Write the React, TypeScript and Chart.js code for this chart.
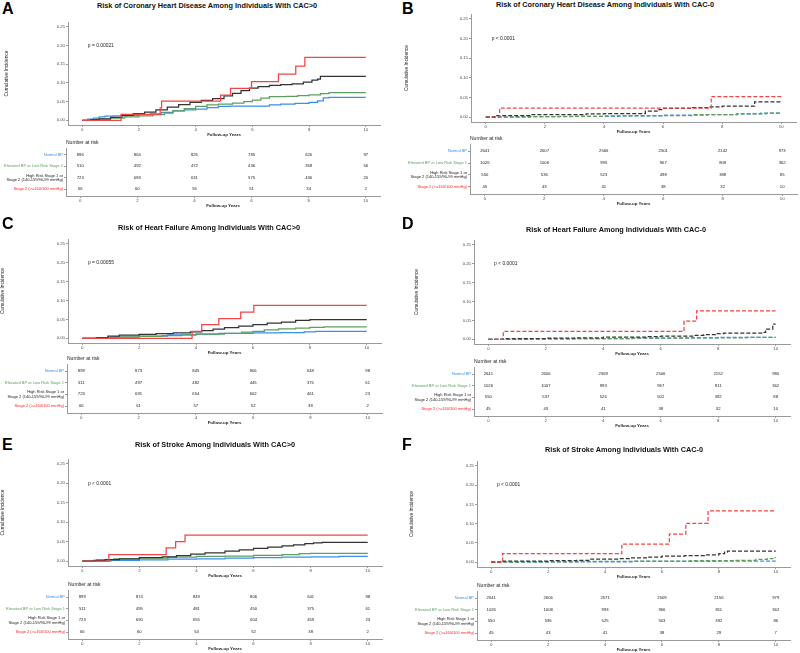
import React, { useEffect, useRef } from 'react';
import { Chart, registerables } from 'chart.js';

Chart.register(...registerables);

const FONT = '"Liberation Sans", Arial, Helvetica, sans-serif';

const yearTicks = [0, 2, 4, 6, 8, 10];
const incidenceTicks = [0, 0.05, 0.1, 0.15, 0.2, 0.25];
const groupNames: (string | string[])[] = [
  'Normal BP',
  'Elevated BP or Low Risk Stage 1',
  ['High Risk Stage 1 or', 'Stage 2 (140-159/90-99 mmHg)'],
  'Stage 2 (>=160/100 mmHg)',
];
const lineColors = ['#3A8FEA', '#5E9E5E', '#333333', '#F24545'];
const labelColors = ['#3A8FEA', '#5E9E5E', '#222222', '#FF2424'];

// ---------- Panel A: CHD, CAC>0 ----------
const aNormal = [[0,0],[0.2,0.003],[0.4,0.006],[0.6,0.009],[0.8,0.011],[1.1,0.012],[1.6,0.013],[2,0.015],[2.4,0.017],[2.8,0.021],[3.2,0.025],[3.6,0.028],[4,0.03],[4.4,0.034],[4.8,0.037],[5.2,0.038],[6,0.038],[6.6,0.041],[7,0.043],[7.5,0.045],[8,0.048],[8.3,0.052],[8.5,0.06],[8.7,0.061],[10,0.061]];
const aElevated = [[0,0],[0.5,0.003],[1,0.006],[1.5,0.009],[2,0.012],[2.5,0.015],[2.9,0.019],[3.2,0.025],[3.6,0.031],[4,0.037],[4.4,0.041],[4.8,0.043],[5.3,0.046],[5.7,0.05],[6,0.054],[6.3,0.059],[6.6,0.063],[7.2,0.064],[7.6,0.066],[8,0.068],[8.4,0.071],[8.7,0.074],[10,0.074]];
const aHigh = [[0,0],[0.3,0.002],[0.6,0.004],[1,0.008],[1.4,0.013],[1.8,0.018],[2.2,0.022],[2.6,0.028],[3,0.035],[3.4,0.042],[3.8,0.048],[4.2,0.053],[4.6,0.058],[5,0.065],[5.3,0.072],[5.6,0.079],[5.9,0.086],[6.2,0.09],[6.6,0.093],[7,0.095],[7.4,0.097],[7.8,0.102],[8.1,0.107],[8.3,0.11],[8.4,0.117],[10,0.117]];
const aStage2 = [[0,0],[1.37,0.016],[2.75,0.033],[2.8,0.051],[4.88,0.067],[5.23,0.085],[5.97,0.103],[6.92,0.123],[7.53,0.145],[7.85,0.168],[10,0.168]];
const aRiskNormal = [896, 864, 826, 785, 626, 97];
const aRiskElevated = [510, 492, 472, 436, 358, 56];
const aRiskHigh = [723, 683, 631, 575, 436, 20];
const aRiskStage2 = [66, 60, 55, 51, 34, 2];

// ---------- Panel B: CHD, CAC=0 ----------
const bNormal = [[0,0],[1.5,0.001],[3,0.002],[4.5,0.003],[6,0.005],[7.5,0.006],[8.5,0.008],[9.3,0.01],[10,0.011]];
const bElevated = [[0,0],[1,0.001],[2.5,0.002],[4,0.003],[5.5,0.004],[7,0.006],[8.5,0.008],[9.5,0.01],[10,0.01]];
const bHigh = [[0,0],[0.3,0.004],[1.5,0.006],[3.4,0.008],[4,0.009],[5.4,0.015],[5.8,0.019],[6,0.022],[7,0.024],[7.6,0.026],[8,0.028],[9.1,0.039],[10,0.039]];
const bStage2 = [[0,0],[0.47,0.023],[7.63,0.052],[10,0.052]];
const bRiskNormal = [2641, 2607, 2566, 2501, 2142, 973];
const bRiskElevated = [1026, 1006, 995, 967, 809, 362];
const bRiskHigh = [550, 536, 523, 498, 388, 85];
const bRiskStage2 = [45, 43, 41, 38, 32, 10];

// ---------- Panel C: HF, CAC>0 ----------
const cNormal = [[0,0],[0.5,0.002],[1,0.003],[2,0.006],[3,0.009],[4,0.011],[4.8,0.013],[6,0.014],[7,0.015],[7.8,0.017],[8.2,0.018],[10,0.018]];
const cElevated = [[0,0],[0.6,0.002],[1.2,0.004],[2,0.005],[2.8,0.007],[3.5,0.009],[4,0.011],[5,0.013],[5.6,0.016],[6,0.018],[6.4,0.022],[6.9,0.025],[7.5,0.027],[8,0.029],[8.5,0.03],[10,0.03]];
const cHigh = [[0,0],[0.5,0.002],[0.9,0.006],[1.3,0.008],[2,0.01],[2.6,0.012],[3.2,0.014],[3.8,0.017],[4.2,0.02],[4.6,0.024],[5,0.028],[5.5,0.032],[6,0.036],[6.5,0.04],[7,0.043],[7.5,0.047],[8,0.049],[10,0.049]];
const cStage2 = [[0,0],[3.86,0.018],[4.2,0.036],[4.8,0.052],[5.57,0.069],[6.03,0.087],[10,0.087]];
const cRiskNormal = [899, 873, 845, 806, 648, 98];
const cRiskElevated = [511, 497, 482, 445, 375, 61];
const cRiskHigh = [723, 691, 654, 602, 461, 23];
const cRiskStage2 = [66, 61, 57, 52, 38, 2];

// ---------- Panel D: HF, CAC=0 ----------
const dNormal = [[0,0],[1,0.001],[3,0.002],[5,0.003],[6.5,0.004],[8,0.005],[10,0.005]];
const dElevated = [[0,0],[1.5,0.001],[3,0.002],[5,0.003],[7,0.004],[9,0.005],[10,0.005]];
const dHigh = [[0,0],[0.5,0.002],[2,0.003],[3,0.004],[4,0.006],[5.5,0.007],[6,0.008],[7.2,0.01],[7.5,0.012],[7.9,0.015],[8.2,0.016],[9.6,0.018],[9.65,0.027],[9.9,0.04],[10,0.04]];
const dStage2 = [[0,0],[0.52,0.021],[6.81,0.048],[7.25,0.075],[10,0.075]];
const dRiskNormal = [2641, 2606, 2569, 2506, 2152, 980];
const dRiskElevated = [1026, 1007, 993, 967, 811, 362];
const dRiskHigh = [550, 537, 526, 502, 392, 88];
const dRiskStage2 = [45, 43, 41, 38, 32, 10];

// ---------- Panel E: Stroke, CAC>0 ----------
const eNormal = [[0,0],[1,0.002],[2,0.003],[3,0.005],[4,0.006],[5,0.008],[6,0.009],[7,0.01],[8,0.011],[9,0.012],[10,0.012]];
const eElevated = [[0,0],[0.5,0.003],[1.1,0.006],[2,0.008],[3,0.01],[4,0.012],[5,0.013],[6,0.015],[7,0.017],[7.6,0.019],[8,0.02],[10,0.02]];
const eHigh = [[0,0],[0.4,0.002],[0.8,0.004],[1.3,0.006],[2,0.009],[2.8,0.011],[3.3,0.014],[3.8,0.018],[4.3,0.021],[5,0.026],[5.5,0.029],[6,0.033],[6.5,0.036],[7,0.039],[7.4,0.042],[7.8,0.045],[8.1,0.047],[8.4,0.048],[10,0.048]];
const eStage2 = [[0,0],[0.93,0.017],[2.94,0.034],[3.27,0.05],[3.6,0.067],[10,0.067]];
const eRiskNormal = [899, 874, 849, 806, 641, 98];
const eRiskElevated = [511, 495, 481, 450, 375, 61];
const eRiskHigh = [723, 690, 655, 604, 459, 23];
const eRiskStage2 = [66, 60, 54, 52, 38, 2];

// ---------- Panel F: Stroke, CAC=0 ----------
const fNormal = [[0,0],[2,0.001],[5,0.002],[8,0.003],[10,0.003]];
const fElevated = [[0,0],[1,0.001],[3,0.002],[5,0.003],[7,0.004],[8.5,0.005],[9.3,0.007],[9.7,0.009],[9.9,0.012],[10,0.012]];
const fHigh = [[0,0],[0.4,0.003],[2,0.004],[3,0.005],[3.5,0.008],[4.5,0.009],[4.9,0.011],[5.5,0.013],[6,0.016],[6.8,0.017],[7.5,0.019],[8,0.022],[8.2,0.026],[8.3,0.029],[10,0.029]];
const fStage2 = [[0,0],[0.4,0.022],[4.59,0.047],[6.26,0.073],[6.84,0.101],[7.62,0.133],[10,0.133]];
const fRiskNormal = [2641, 2606, 2571, 2509, 2156, 979];
const fRiskElevated = [1026, 1008, 993, 966, 811, 362];
const fRiskHigh = [550, 536, 525, 503, 392, 86];
const fRiskStage2 = [45, 43, 41, 38, 29, 7];

const panels = [
  { letter: 'A', title: 'Risk of Coronary Heart Disease Among Individuals With CAC>0', p: 'p = 0.00021', dashed: false,
    curves: [aNormal, aElevated, aHigh, aStage2], risk: [aRiskNormal, aRiskElevated, aRiskHigh, aRiskStage2] },
  { letter: 'B', title: 'Risk of Coronary Heart Disease Among Individuals With CAC-0', p: 'p < 0.0001', dashed: true,
    curves: [bNormal, bElevated, bHigh, bStage2], risk: [bRiskNormal, bRiskElevated, bRiskHigh, bRiskStage2] },
  { letter: 'C', title: 'Risk of Heart Failure Among Individuals With CAC>0', p: 'p = 0.00055', dashed: false,
    curves: [cNormal, cElevated, cHigh, cStage2], risk: [cRiskNormal, cRiskElevated, cRiskHigh, cRiskStage2] },
  { letter: 'D', title: 'Risk of Heart Failure Among Individuals With CAC-0', p: 'p < 0.0001', dashed: true,
    curves: [dNormal, dElevated, dHigh, dStage2], risk: [dRiskNormal, dRiskElevated, dRiskHigh, dRiskStage2] },
  { letter: 'E', title: 'Risk of Stroke Among Individuals With CAC>0', p: 'p < 0.0001', dashed: false,
    curves: [eNormal, eElevated, eHigh, eStage2], risk: [eRiskNormal, eRiskElevated, eRiskHigh, eRiskStage2] },
  { letter: 'F', title: 'Risk of Stroke Among Individuals With CAC-0', p: 'p < 0.0001', dashed: true,
    curves: [fNormal, fElevated, fHigh, fStage2], risk: [fRiskNormal, fRiskElevated, fRiskHigh, fRiskStage2] },
];

// layout (pixels)
const layouts = [
  { x0: 0, letterY: 1, titleX: 207, titleY: 6, yTitleX: 7,
    km: { left: 68, right: 380, top: 22, bottom: 125 }, tbl: { left: 66, right: 380, top: 148, bottom: 196 } },
  { x0: 400, letterY: 1, titleX: 605, titleY: 5, yTitleX: 407,
    km: { left: 471, right: 796, top: 14, bottom: 122 }, tbl: { left: 470, right: 797, top: 144, bottom: 194 } },
  { x0: 0, letterY: 216, titleX: 209, titleY: 228, yTitleX: 3,
    km: { left: 68, right: 381, top: 239, bottom: 343 }, tbl: { left: 67, right: 382, top: 364, bottom: 413 } },
  { x0: 400, letterY: 216, titleX: 616, titleY: 230, yTitleX: 417,
    km: { left: 474, right: 790, top: 240, bottom: 344 }, tbl: { left: 474, right: 790, top: 367, bottom: 416 } },
  { x0: 0, letterY: 437, titleX: 215, titleY: 445, yTitleX: 3,
    km: { left: 68, right: 382, top: 459, bottom: 566 }, tbl: { left: 68, right: 382, top: 590, bottom: 639 } },
  { x0: 400, letterY: 437, titleX: 624, titleY: 450, yTitleX: 412,
    km: { left: 477, right: 790, top: 461, bottom: 567 }, tbl: { left: 477, right: 790, top: 591, bottom: 640 } },
];

const TICK_FONT = { size: 4.3, family: FONT };
const AXIS_COLOR = '#9a9a9a';
const X_AXIS_H = 12;

function xScale() {
  return {
    type: 'linear',
    min: -0.5,
    max: 10.5,
    afterBuildTicks: (s: any) => { s.ticks = yearTicks.map((v) => ({ value: v })); },
    afterFit: (s: any) => { s.height = X_AXIS_H; },
    ticks: { font: TICK_FONT, color: '#4d4d4d', padding: 0, maxRotation: 0, autoSkip: false },
    grid: { display: true, drawOnChartArea: false, tickLength: 2, color: AXIS_COLOR },
    border: { display: true, color: AXIS_COLOR, width: 1 },
    title: { display: true, text: 'Follow-up Years', font: { size: 4.4, weight: 'bold', family: FONT }, color: '#222', padding: { top: 0, bottom: 0 } },
  };
}

function KMChart({ spec, lay }: any) {
  const ref = useRef<HTMLCanvasElement>(null);
  const top = lay.km.top - 6;
  const h = lay.km.bottom - top + X_AXIS_H;
  useEffect(() => {
    const padLeft = Math.max(0, lay.yTitleX - lay.x0 - 3);
    const order = [3, 2, 1, 0];
    const pPlugin = {
      id: 'pvalue',
      afterDatasetsDraw(chart: any) {
        const { ctx, scales } = chart;
        ctx.save();
        ctx.font = `4.9px ${FONT}`;
        ctx.fillStyle = '#222';
        ctx.textAlign = 'left';
        ctx.textBaseline = 'middle';
        ctx.fillText(spec.p, scales.x.getPixelForValue(0.2), scales.y.getPixelForValue(0.2));
        ctx.restore();
      },
    };
    const chart = new Chart(ref.current!, {
      type: 'line',
      data: {
        datasets: order.map((i) => ({
          data: spec.curves[i].map((pt: number[]) => ({ x: pt[0], y: pt[1] })),
          borderColor: lineColors[i],
          borderWidth: 1.25,
          borderDash: spec.dashed ? [4, 2] : [],
          stepped: 'before',
          pointRadius: 0,
          fill: false,
        })),
      },
      options: {
        responsive: false,
        animation: false,
        devicePixelRatio: 1,
        layout: { padding: { top: 6, left: padLeft, right: lay.x0 + 400 - lay.km.right, bottom: 0 } },
        plugins: { legend: { display: false }, tooltip: { enabled: false } },
        scales: {
          x: xScale(),
          y: {
            type: 'linear',
            min: -0.0125,
            max: 0.2625,
            afterBuildTicks: (s: any) => { s.ticks = incidenceTicks.map((v) => ({ value: v })); },
            afterFit: (s: any) => { s.width = lay.km.left - lay.x0 - padLeft; },
            ticks: { font: TICK_FONT, color: '#4d4d4d', padding: 1, callback: (v: any) => Number(v).toFixed(2) },
            grid: { display: true, drawOnChartArea: false, tickLength: 2, color: AXIS_COLOR },
            border: { display: true, color: AXIS_COLOR, width: 1 },
            title: { display: true, text: 'Cumulative Incidence', font: { size: 4.8, family: FONT }, color: '#222', padding: 0 },
          },
        },
      } as any,
      plugins: [pPlugin],
    });
    return () => chart.destroy();
  }, []);
  return (
    <canvas ref={ref} width={400} height={h}
      style={{ position: 'absolute', left: lay.x0, top, width: 400, height: h, display: 'block' }} />
  );
}

function RiskTable({ spec, lay }: any) {
  const ref = useRef<HTMLCanvasElement>(null);
  const top = lay.tbl.top - 12;
  const h = lay.tbl.bottom - top + X_AXIS_H;
  useEffect(() => {
    const points: any[] = [];
    spec.risk.forEach((row: number[], r: number) => {
      row.forEach((n, k) => points.push({ x: yearTicks[k], y: r + 1, n }));
    });
    const textPlugin = {
      id: 'risktext',
      afterDatasetsDraw(chart: any) {
        const { ctx, chartArea } = chart;
        const meta = chart.getDatasetMeta(0);
        ctx.save();
        ctx.font = `4.2px ${FONT}`;
        ctx.fillStyle = '#222';
        ctx.textAlign = 'center';
        ctx.textBaseline = 'middle';
        meta.data.forEach((el: any, i: number) => {
          ctx.fillText(String(points[i].n), el.x, el.y);
        });
        ctx.font = `5px ${FONT}`;
        ctx.textAlign = 'left';
        ctx.fillText('Number at risk', chartArea.left, chartArea.top - 5);
        ctx.restore();
      },
    };
    const chart = new Chart(ref.current!, {
      type: 'scatter',
      data: { datasets: [{ data: points, pointRadius: 0, showLine: false }] },
      options: {
        responsive: false,
        animation: false,
        devicePixelRatio: 1,
        layout: { padding: { top: 12, left: 0, right: lay.x0 + 400 - lay.tbl.right, bottom: 0 } },
        plugins: { legend: { display: false }, tooltip: { enabled: false } },
        scales: {
          x: xScale(),
          y: {
            type: 'linear',
            min: 0.4,
            max: 4.6,
            reverse: true,
            afterBuildTicks: (s: any) => { s.ticks = [1, 2, 3, 4].map((v) => ({ value: v })); },
            afterFit: (s: any) => { s.width = lay.tbl.left - lay.x0; },
            ticks: {
              font: { size: 4, family: FONT, lineHeight: 1.1 },
              color: (c: any) => labelColors[(c.tick ? c.tick.value : c.index + 1) - 1],
              padding: 1,
              autoSkip: false,
              callback: (v: any) => groupNames[Number(v) - 1],
            },
            grid: { display: true, drawOnChartArea: false, tickLength: 2, color: AXIS_COLOR },
            border: { display: true, color: AXIS_COLOR, width: 1 },
          },
        },
      } as any,
      plugins: [textPlugin],
    });
    return () => chart.destroy();
  }, []);
  return (
    <canvas ref={ref} width={400} height={h}
      style={{ position: 'absolute', left: lay.x0, top, width: 400, height: h, display: 'block' }} />
  );
}

function Panel({ spec, lay }: any) {
  return (
    <>
      <div style={{ position: 'absolute', left: lay.x0 + 2, top: lay.letterY, font: `bold 16px ${FONT}`, lineHeight: '16px', color: '#000' }}>
        {spec.letter}
      </div>
      <div style={{ position: 'absolute', left: lay.titleX, top: lay.titleY - 4, transform: 'translateX(-50%)', whiteSpace: 'nowrap',
        font: `bold 7.3px ${FONT}`, lineHeight: '8px', color: '#111' }}>
        {spec.title}
      </div>
      <KMChart spec={spec} lay={lay} />
      <RiskTable spec={spec} lay={lay} />
    </>
  );
}

export default function App() {
  return (
    <div style={{ position: 'absolute', left: 0, top: 0, width: 800, height: 653, background: '#fff', overflow: 'hidden' }}>
      {panels.map((p, i) => <Panel key={p.letter} spec={p} lay={layouts[i]} />)}
    </div>
  );
}
